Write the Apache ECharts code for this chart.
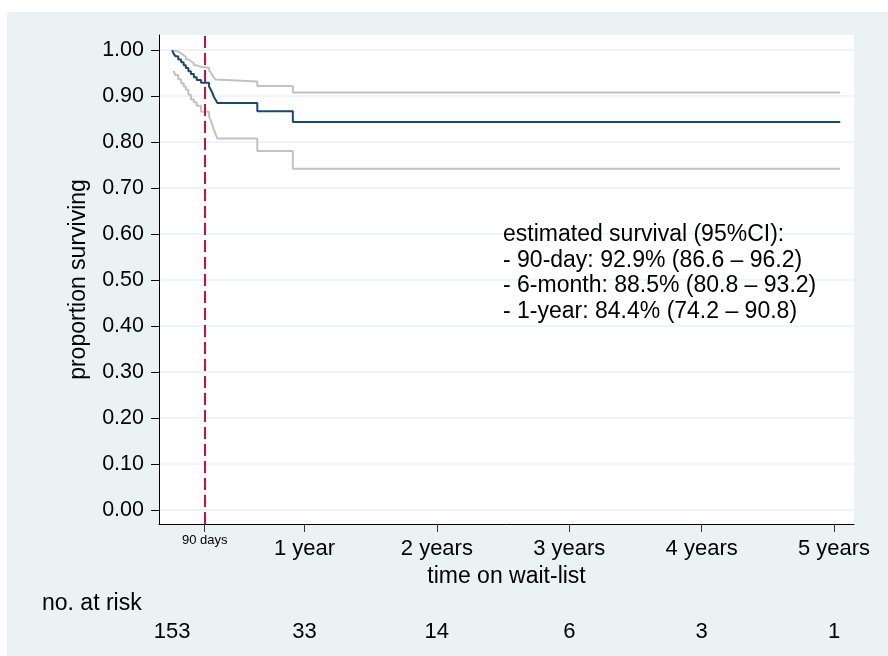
<!DOCTYPE html>
<html>
<head>
<meta charset="utf-8">
<script src="https://cdn.jsdelivr.net/npm/echarts@6/dist/echarts.min.js"></script>
<style>
  html, body { margin: 0; padding: 0; background: #ffffff; }
  #chart { width: 888px; height: 656px; }
</style>
</head>
<body>
<div id="chart"></div>
<script>
// Kaplan-Meier survival on the wait-list (time in days)
const kmTimes = [0, 4, 9, 17, 25, 32, 38, 45, 52, 60, 68, 80, 102, 107, 111, 115, 120, 125, 235, 333, 1842];
const kmSurv  = [1.000, 0.993, 0.987, 0.980, 0.974, 0.967, 0.961, 0.954, 0.948, 0.941, 0.935, 0.929,
                 0.921, 0.914, 0.907, 0.899, 0.892, 0.885, 0.867, 0.844, 0.844];

// 95% confidence band, from the first event onward
const ciTimes = [4, 9, 17, 25, 32, 38, 45, 52, 60, 68, 80, 102, 107, 111, 115, 120, 125, 235, 333, 1842];
const ciUpper = [0.999, 0.997, 0.993, 0.989, 0.985, 0.980, 0.976, 0.972, 0.967, 0.964, 0.962,
                 0.956, 0.951, 0.946, 0.941, 0.936, 0.932, 0.922, 0.908, 0.908];
const ciLower = [0.955, 0.946, 0.937, 0.928, 0.921, 0.914, 0.903, 0.893, 0.887, 0.879, 0.866,
                 0.855, 0.846, 0.837, 0.828, 0.818, 0.808, 0.781, 0.742, 0.742];

// axis ticks
const yTicks = [0, 0.1, 0.2, 0.3, 0.4, 0.5, 0.6, 0.7, 0.8, 0.9, 1.0];
const yearTicks = [365, 730, 1095, 1460, 1825];
const yearLabels = ['1 year', '2 years', '3 years', '4 years', '5 years'];
const markDay = 90;

// number at risk below the axis
const riskTimes = [0, 365, 730, 1095, 1460, 1825];
const riskCounts = [153, 33, 14, 6, 3, 1];

const annotation = [
  'estimated survival (95%CI):',
  '- 90-day: 92.9% (86.6 \u2013 96.2)',
  '- 6-month: 88.5% (80.8 \u2013 93.2)',
  '- 1-year: 84.4% (74.2 \u2013 90.8)'
];

const FONT = '"Liberation Sans", Arial, Helvetica, sans-serif';
const BG = '#EAF2F3';
const xMin = -36, xMax = 1880;

function pairs(xs, ys) { return xs.map((x, i) => [x, ys[i]]); }

const chart = echarts.init(document.getElementById('chart'), null, { renderer: 'canvas' });

const baseX = { type: 'value', min: xMin, max: xMax, position: 'bottom', splitLine: { show: false } };

chart.setOption({
  backgroundColor: '#ffffff',
  animation: false,
  textStyle: { fontFamily: FONT, color: '#000' },
  graphic: [
    { type: 'rect', z: -10, silent: true, shape: { x: 7, y: 12, width: 881, height: 644 }, style: { fill: BG } },
    { type: 'text', left: 42, top: 592, silent: true,
      style: { text: 'no. at risk', font: '23px ' + FONT, fill: '#000' } },
    { type: 'text', left: 503, top: 222, silent: true, z: 10,
      style: { text: annotation.join('\n'), font: '23px ' + FONT, lineHeight: 25.5, fill: '#000' } }
  ],
  grid: { left: 159, top: 35, right: 34, bottom: 132, show: true, backgroundColor: '#ffffff', borderWidth: 0 },
  xAxis: [
    Object.assign({}, baseX, {
      name: 'time on wait-list', nameLocation: 'middle', nameGap: 41,
      nameTextStyle: { fontSize: 23, color: '#000', fontFamily: FONT },
      axisLine: { show: true, onZero: false, lineStyle: { color: '#000', width: 1 } },
      axisTick: { show: true, length: 8, customValues: [markDay].concat(yearTicks), lineStyle: { color: '#333' } },
      axisLabel: { customValues: yearTicks, margin: 14, fontSize: 22, color: '#000', fontFamily: FONT,
        formatter: v => yearLabels[yearTicks.indexOf(Math.round(v))] || '' }
    }),
    Object.assign({}, baseX, {
      axisLine: { show: false, onZero: false }, axisTick: { show: false },
      axisLabel: { customValues: [markDay], margin: 10, fontSize: 13, color: '#000', fontFamily: FONT,
        formatter: () => markDay + ' days' }
    }),
    Object.assign({}, baseX, {
      axisLine: { show: false, onZero: false }, axisTick: { show: false },
      axisLabel: { customValues: riskTimes, margin: 97, fontSize: 22, color: '#000', fontFamily: FONT,
        formatter: v => String(riskCounts[riskTimes.indexOf(Math.round(v))]) }
    })
  ],
  yAxis: {
    type: 'value', min: -0.03, max: 1.033,
    name: 'proportion surviving', nameLocation: 'middle', nameGap: 69,
    nameTextStyle: { fontSize: 23, color: '#000', fontFamily: FONT },
    axisLine: { show: true, onZero: false, lineStyle: { color: '#000', width: 1 } },
    axisTick: { show: true, length: 8, customValues: yTicks, lineStyle: { color: '#000' } },
    axisLabel: { customValues: yTicks, margin: 15, fontSize: 21.5, color: '#000', fontFamily: FONT,
      formatter: v => v.toFixed(2) },
    splitLine: { show: true, lineStyle: { color: BG, width: 1.5 } }
  },
  series: [
    { name: 'upper', type: 'line', step: 'end', symbol: 'none', data: pairs(ciTimes, ciUpper),
      lineStyle: { color: '#c2c2c2', width: 2 }, z: 2 },
    { name: 'lower', type: 'line', step: 'end', symbol: 'none', data: pairs(ciTimes, ciLower),
      lineStyle: { color: '#c2c2c2', width: 2 }, z: 2 },
    { name: 'survival', type: 'line', step: 'end', symbol: 'none', data: pairs(kmTimes, kmSurv),
      lineStyle: { color: '#1a476f', width: 2 }, z: 3,
      markLine: { silent: true, symbol: 'none', label: { show: false },
        lineStyle: { color: '#d0103a', width: 2, type: [12, 5] },
        data: [{ xAxis: markDay }] } }
  ]
});
</script>
</body>
</html>
